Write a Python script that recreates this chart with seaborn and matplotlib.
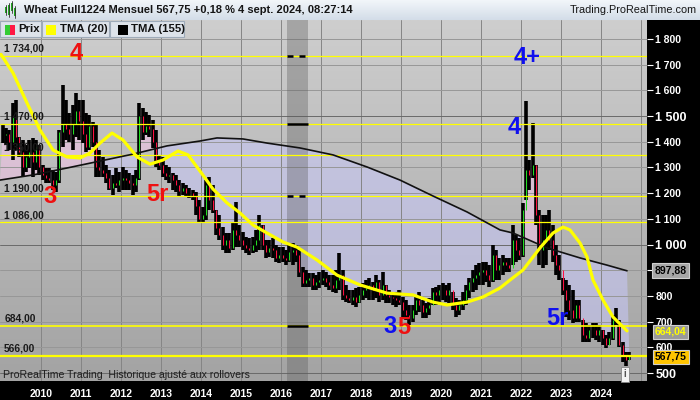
import numpy as np
import matplotlib
matplotlib.use("Agg")
import matplotlib.pyplot as plt
import seaborn as sns
from matplotlib.colors import LinearSegmentedColormap
from matplotlib.patches import Polygon, Rectangle
from matplotlib.transforms import blended_transform_factory

sns.set_theme(style="white")
plt.rcParams['font.family'] = ['Liberation Sans', 'DejaVu Sans']

# monthly bars, Jan 2009 .. Sep 2024
first_year = 2009
high = [
    1465, 1454, 1446, 1551, 1562, 1419, 1407, 1387, 1407, 1415, 1407, 1387,  # 2009
    1310, 1298, 1298, 1290, 1282, 1446, 1621, 1562, 1512, 1543, 1590, 1562,  # 2010
    1562, 1512, 1504, 1477, 1465, 1368, 1341, 1310, 1290, 1271, 1298, 1282,  # 2011
    1302, 1290, 1278, 1271, 1290, 1551, 1531, 1516, 1504, 1485, 1446, 1349,  # 2012
    1341, 1310, 1302, 1278, 1271, 1251, 1240, 1232, 1220, 1212, 1205, 1173,  # 2013
    1146, 1251, 1263, 1232, 1134, 1115, 1068, 1045, 1045, 1088, 1166, 1076,  # 2014
    1049, 1029, 1025, 1029, 1057, 1115, 1076, 1018, 1018, 1025, 998, 990,    # 2015
    990, 979, 1006, 1006, 998, 979, 913, 901, 889, 889, 881, 893,            # 2016
    901, 893, 881, 881, 901, 967, 901, 843, 823, 823, 831, 835,              # 2017
    850, 862, 870, 854, 881, 862, 893, 843, 823, 815, 815, 823,              # 2018
    796, 784, 765, 765, 796, 815, 784, 773, 792, 831, 835, 843,              # 2019
    850, 843, 850, 815, 792, 784, 815, 843, 870, 901, 920, 928,              # 2020
    932, 932, 920, 998, 979, 948, 959, 948, 948, 1076, 1037, 1025,           # 2021
    1162, 1559, 1329, 1473, 1310, 1134, 1115, 1115, 1134, 1076, 998, 959,    # 2022
    870, 862, 843, 823, 784, 784, 706, 695, 687, 695, 695, 687,              # 2023
    667, 648, 660, 726, 753, 706, 619, 582, 582,                             # 2024
]
low = [
    1395, 1387, 1368, 1329, 1368, 1341, 1263, 1282, 1298, 1263, 1290, 1271,
    1251, 1240, 1240, 1212, 1205, 1240, 1380, 1407, 1399, 1368, 1419, 1407,
    1395, 1360, 1368, 1380, 1263, 1263, 1263, 1240, 1212, 1193, 1220, 1205,
    1212, 1212, 1212, 1193, 1205, 1251, 1407, 1426, 1419, 1376, 1302, 1290,
    1263, 1251, 1240, 1212, 1205, 1185, 1193, 1185, 1181, 1173, 1115, 1084,
    1084, 1096, 1134, 1123, 1037, 1018, 979, 967, 967, 979, 990, 990,
    979, 967, 959, 967, 971, 979, 979, 948, 952, 948, 932, 928,
    932, 920, 932, 920, 932, 874, 835, 835, 835, 823, 823, 831,
    843, 835, 823, 815, 811, 823, 784, 776, 773, 765, 757, 773,
    784, 792, 784, 784, 792, 776, 784, 773, 773, 765, 757, 765,
    718, 706, 687, 699, 726, 737, 714, 714, 726, 765, 765, 773,
    784, 776, 773, 745, 718, 726, 745, 765, 792, 815, 823, 843,
    843, 854, 835, 854, 862, 862, 881, 893, 893, 920, 932, 940,
    952, 1173, 1212, 1259, 1076, 920, 909, 920, 979, 932, 881, 862,
    804, 718, 706, 695, 699, 699, 622, 622, 622, 637, 630, 622,
    609, 598, 609, 630, 687, 601, 543, 527, 551,
]
close = [
    1426, 1430, 1400, 1500, 1420, 1360, 1300, 1340, 1360, 1320, 1380, 1300,
    1270, 1260, 1250, 1230, 1250, 1440, 1470, 1450, 1430, 1470, 1520, 1480,
    1430, 1380, 1460, 1400, 1300, 1290, 1280, 1260, 1220, 1240, 1230, 1250,
    1260, 1250, 1240, 1230, 1260, 1500, 1440, 1460, 1450, 1400, 1330, 1310,
    1280, 1265, 1270, 1250, 1230, 1210, 1220, 1200, 1200, 1190, 1150, 1100,
    1115, 1232, 1173, 1134, 1064, 1037, 998, 1018, 987, 1057, 1037, 1018,
    998, 987, 979, 998, 1018, 1076, 998, 971, 987, 979, 948, 959,
    948, 940, 971, 979, 959, 893, 850, 862, 870, 843, 854, 862,
    870, 854, 843, 831, 862, 881, 804, 792, 784, 796, 776, 804,
    823, 831, 843, 823, 854, 804, 843, 804, 796, 792, 784, 776,
    745, 726, 714, 745, 784, 765, 737, 753, 765, 815, 804, 823,
    823, 804, 823, 765, 745, 765, 784, 823, 854, 870, 881, 893,
    901, 881, 862, 959, 901, 920, 932, 920, 909, 1018, 979, 959,
    1134, 1290, 1271, 1310, 1115, 979, 1018, 1057, 1018, 959, 920, 901,
    823, 784, 745, 714, 765, 714, 648, 637, 667, 667, 648, 667,
    637, 609, 637, 706, 699, 609, 570, 551, 567.75,
]

# moving averages (decimal year, value)
tma20_t = [2009.0, 2009.3, 2009.65, 2009.975, 2010.3, 2010.65, 2010.975, 2011.225,
           2011.475, 2011.775, 2012.05, 2012.4, 2012.725, 2013.05, 2013.425, 2013.675,
           2013.975, 2014.3, 2014.65, 2014.975, 2015.3, 2015.65, 2016.05, 2016.4,
           2016.9, 2017.4, 2017.975, 2018.65, 2019.3, 2019.8, 2020.15, 2020.65,
           2021.05, 2021.475, 2021.725, 2022.05, 2022.475, 2022.8, 2023.05, 2023.225,
           2023.475, 2023.65, 2023.8, 2024.05, 2024.3, 2024.65]
tma20_v = [1740, 1668, 1551, 1446, 1368, 1341, 1337, 1356,
           1395, 1434, 1407, 1341, 1313, 1329, 1364, 1349,
           1286, 1216, 1162, 1123, 1076, 1045, 1010, 990,
           940, 881, 843, 811, 804, 776, 765, 776,
           796, 831, 862, 901, 987, 1045, 1068, 1057,
           1006, 952, 862, 784, 718, 664.04]
tma155_t = [2008.975, 2009.8, 2010.65, 2011.475, 2012.3, 2013.15, 2013.975, 2014.4,
            2015.05, 2015.65, 2016.475, 2017.3, 2018.15, 2018.975, 2019.8, 2020.65,
            2021.475, 2021.8, 2022.65, 2023.475, 2024.15, 2024.65]
tma155_v = [1251, 1271, 1298, 1325, 1352, 1384, 1403, 1415,
            1411, 1395, 1376, 1349, 1302, 1251, 1189, 1127,
            1057, 1045, 987, 948, 920, 897.88]

levels = [1734, 1470, 1350, 1190, 1086, 684, 566]
level_labels = ["1 734,00", "1 470,00", "1 350,00", "1 190,00", "1 086,00", "684,00", "566,00"]
years = list(range(2010, 2025))
yticks = list(range(500, 1900, 100))

n = len(close)
t = first_year + (np.arange(n) + 0.5) / 12
opens = [close[0]] + close[:-1]

W, H = 700, 400
fig = plt.figure(figsize=(7, 4), dpi=100, facecolor='black')
ax = fig.add_axes([0, 19 / H, 647 / W, 361 / H])
x0, x1 = 2008.975, 2025.15
y0, y1 = 469, 1874

# background gradient
bg = LinearSegmentedColormap.from_list('bg', ['#a3a3a3', '#cecece'])
ax.imshow(np.linspace(0, 1, 256).reshape(-1, 1), cmap=bg, origin='lower',
          extent=[x0, x1, y0, y1], aspect='auto', zorder=0)

# price vs TMA155 zone
tt, tv = np.array(tma155_t), np.array(tma155_v)
zone = list(zip(t, close)) + list(zip(tt[::-1], tv[::-1]))
up_clip = Polygon([(tt[0] - 1, tv[0])] + list(zip(tt, tv)) +
                  [(tt[-1] + 1, tv[-1]), (tt[-1] + 1, 5000), (tt[0] - 1, 5000)],
                  transform=ax.transData)
dn_clip = Polygon([(tt[0] - 1, tv[0])] + list(zip(tt, tv)) +
                  [(tt[-1] + 1, tv[-1]), (tt[-1] + 1, 0), (tt[0] - 1, 0)],
                  transform=ax.transData)
pink = Polygon(zone, closed=True, fc='#f0c4e6', ec='none', alpha=0.6, zorder=1)
lav = Polygon(zone, closed=True, fc='#c8c8fa', ec='none', alpha=0.55, zorder=1)
ax.add_patch(pink)
ax.add_patch(lav)
pink.set_clip_path(up_clip)
lav.set_clip_path(dn_clip)

# grid
for y in years + [2025]:
    ax.axvline(y, color='#858585', lw=0.7, zorder=1.5)
for v in yticks:
    ax.axhline(v, color='#6a6a6a' if v % 500 == 0 else '#979797', lw=0.7, zorder=1.5)

# rollover band
ax.axvspan(2016.15, 2016.675, color='#5a5a5a', alpha=0.35, lw=0, zorder=2)

# bars
ax.vlines(t, low, high, color='black', lw=2.6, zorder=4)
body_lo = np.minimum(opens, close)
body_hi = np.maximum(opens, close)
cols = ['#22dd22' if c >= o else '#ff1040' for o, c in zip(opens, close)]
ax.vlines(t, body_lo, body_hi, colors=cols, lw=0.75, zorder=5)

# horizontal levels
for v, lab in zip(levels, level_labels):
    lw = 1.6 if v == 566 else (1.2 if v == 684 else 0.9)
    ax.axhline(v, color='#ffff00', lw=lw, zorder=5.5)
    ax.annotate(lab, (x0, v), xytext=(3, 1.5), textcoords='offset points',
                ha='left', va='bottom', fontsize=7.4, fontweight='bold',
                color='#1a1a1a', zorder=9)
for v in (1470, 684):
    ax.hlines(v, 2016.15, 2016.675, color='black', lw=1.8, zorder=5.6)
for v in (1734, 1190):
    ax.hlines(v, 2016.15, 2016.3, color='black', lw=1.8, zorder=5.6)
    ax.hlines(v, 2016.45, 2016.6, color='black', lw=1.8, zorder=5.6)

# moving averages
sns.lineplot(x=tma155_t, y=tma155_v, ax=ax, color='#111111', lw=1.2, zorder=6, legend=False)
sns.lineplot(x=tma20_t, y=tma20_v, ax=ax, color='#ffff00', lw=2.3, zorder=7, legend=False)

# wave labels
wave = dict(fontsize=17, fontweight='bold', ha='center', va='center', zorder=10)
ax.text(2010.875, 1745, "4", color='#ee1111', **wave)
ax.text(2010.22, 1188, "3", color='#ee1111', **wave)
ax.text(2012.9, 1195, "5r", color='#ee1111', **wave)
ax.text(2022.15, 1728, "4+", color='#1010ee', **wave)
ax.text(2021.82, 1455, "4", color='#1010ee', **wave)
ax.text(2018.72, 683, "3", color='#1010ee', **wave)
ax.text(2019.07, 677, "5", color='#ee1111', **wave)
ax.text(2022.9, 712, "5r", color='#1010ee', **wave)

ax.text(0.004, 0.004, "ProRealTime Trading  Historique ajusté aux rollovers",
        transform=ax.transAxes, fontsize=7.6, color='#1e1e1e', ha='left', va='bottom', zorder=10)
ax.text(2024.6, 495, "i", fontsize=7, fontweight='bold', color='#555555', ha='center',
        va='center', zorder=10,
        bbox=dict(boxstyle='square,pad=0.25', fc='#f4f4f4', ec='#888888', lw=0.6))

ax.set_xlim(x0, x1)
ax.set_ylim(y0, y1)
for s in ax.spines.values():
    s.set_visible(False)

# price scale (900 sits under the TMA155 value box, as on the original)
ax.yaxis.tick_right()
ax.set_yticks(yticks)
ax.set_yticklabels(["" if v == 900 else f"{v:,}".replace(',', ' ') for v in yticks])
ax.tick_params(axis='y', colors='white', length=4, width=0.8, pad=2, direction='out')
for lab, v in zip(ax.get_yticklabels(), yticks):
    lab.set_fontweight('bold')
    lab.set_fontsize(9 if v % 500 == 0 else 7.5)
ax.set_xticks(years)
ax.set_xticklabels([str(y) for y in years])
ax.tick_params(axis='x', colors='white', length=3, width=0.8, pad=3, labelsize=7.5)
for lab in ax.get_xticklabels():
    lab.set_fontweight('bold')

# last-value boxes on the price scale
btr = blended_transform_factory(ax.transAxes, ax.transData)
ax.text(1.012, 897.88, "897,88", transform=btr, fontsize=7.5, fontweight='bold', color='black',
        va='center', ha='left', zorder=11, clip_on=False,
        bbox=dict(boxstyle='square,pad=0.25', fc='#a6a6a6', ec='#cfcfcf', lw=0.8))
ax.text(1.012, 660, "664,04", transform=btr, fontsize=7.5, fontweight='bold', color='#ffff00',
        va='center', ha='left', zorder=11, clip_on=False,
        bbox=dict(boxstyle='square,pad=0.2', fc='#9a9a9a', ec='#cfcfcf', lw=0.8))
ax.text(1.012, 563, "567,75", transform=btr, fontsize=7.5, fontweight='bold', color='black',
        va='center', ha='left', zorder=11, clip_on=False,
        bbox=dict(boxstyle='square,pad=0.2', fc='#ffc400', ec='#cfcfcf', lw=0.8))

# header strip
hax = fig.add_axes([0, 1 - 20 / H, 1, 20 / H])
hax.imshow(np.linspace(0, 1, 64).reshape(-1, 1), origin='lower', aspect='auto',
           cmap=LinearSegmentedColormap.from_list('hd', ['#d3dde8', '#f2f6fa']),
           extent=[0, 1, 0, 1])
hax.set_xlim(0, 1)
hax.set_ylim(0, 1)
hax.axis('off')
hax.text(24 / W, 0.5, "Wheat Full1224 Mensuel 567,75 +0,18 % 4 sept. 2024, 08:27:14",
         fontsize=8.0, fontweight='bold', color='#151515', va='center', ha='left')
hax.text(697 / W, 0.5, "Trading.ProRealTime.com", fontsize=7.8, color='#151515',
         va='center', ha='right')
for xs, ylo, yhi in [(6, 0.35, 0.65), (9, 0.25, 0.75), (12, 0.45, 0.85), (15, 0.2, 0.6)]:
    hax.plot([xs / W, xs / W], [ylo - 0.1, yhi + 0.1], color='#333333', lw=0.6)
    hax.add_patch(Rectangle((xs / W - 1 / W, ylo), 2 / W, yhi - ylo, fc='#22aa22', ec='none'))

# legend row
def fbox(x, y, w, h, **kw):
    fig.patches.append(Rectangle((x / W, 1 - (y + h) / H), w / W, h / H,
                                 transform=fig.transFigure, figure=fig, **kw))

for bx, bw in [(0, 41), (42, 67), (110, 74)]:
    fbox(bx, 21, bw, 16, fc='#dde3ea', ec='#9eabb9', lw=0.8, zorder=20)
fbox(5, 25, 5, 10, fc='#33cc33', ec='none', zorder=21)
fbox(10, 25, 5, 10, fc='#ff1744', ec='none', zorder=21)
fbox(46, 25, 10, 10, fc='#ffff00', ec='none', zorder=21)
fbox(118, 25, 10, 10, fc='#000000', ec='none', zorder=21)
for tx, s in [(18, "Prix"), (60, "TMA (20)"), (131, "TMA (155)")]:
    fig.text(tx / W, 1 - 29 / H, s, fontsize=8.2, fontweight='bold', color='#111111',
             ha='left', va='center', zorder=22)

fig.savefig('out.png', dpi=100, facecolor=fig.get_facecolor())
